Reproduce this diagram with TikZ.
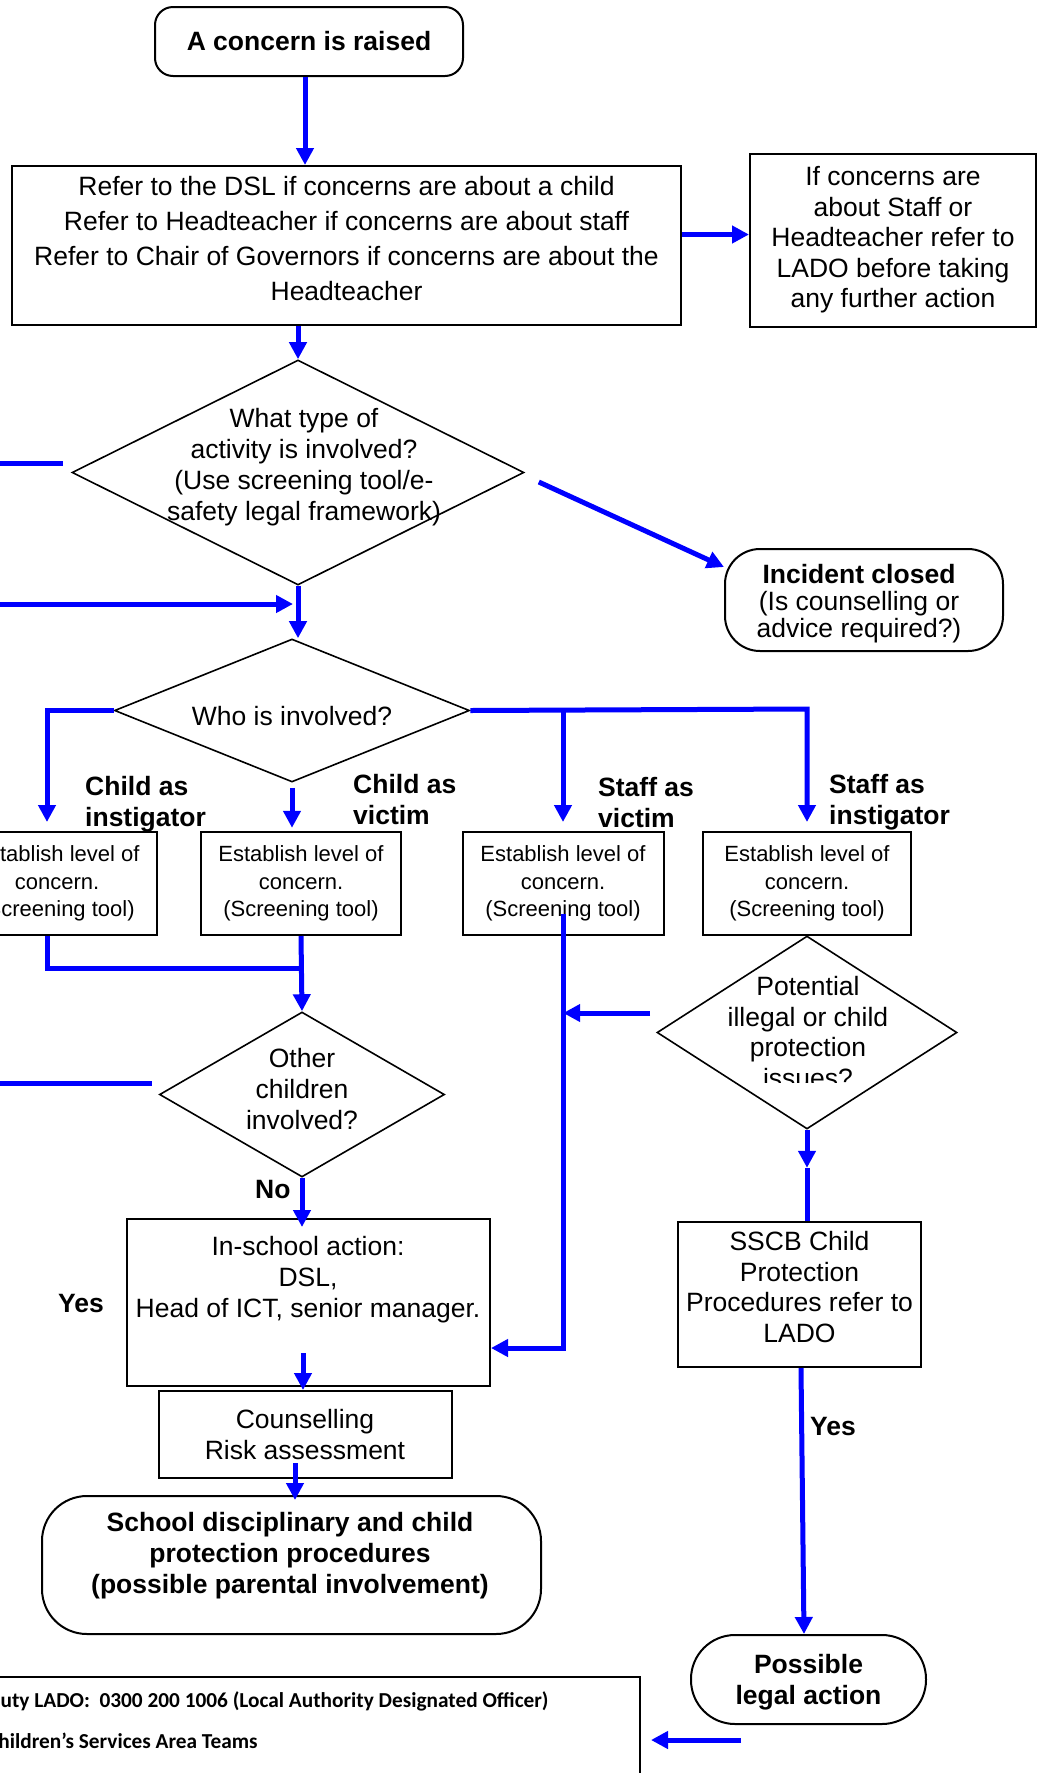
\documentclass[tikz,border=0pt]{standalone}
\usepackage{fontspec}
\setmainfont{Liberation Sans}
\newfontfamily\calibrifont{Carlito}
\usetikzlibrary{shapes.geometric,arrows.meta}

\newcommand{\flowtxt}{\fontsize{26.5}{31}\selectfont}
\newcommand{\esttxt}{\fontsize{22}{27.5}\selectfont}

\begin{document}
\begin{tikzpicture}[x=1pt,y=-1pt,
	box/.style={draw, line width=2pt, align=center, inner sep=0pt, font=\flowtxt},
	rbox/.style={box, rounded corners=#1},
	decision/.style={draw, diamond, line width=1.6pt, inner sep=0pt},
	flow/.style={blue, line width=5pt, -{Triangle[length=17pt,width=17pt]}},
	link/.style={blue, line width=5pt},
	tag/.style={font=\bfseries\flowtxt, align=left, anchor=west, inner sep=0pt}]

	\useasboundingbox (0,0) rectangle (1040,1773);
	\clip (0,0) rectangle (1040,1773);

	\node[rbox=18pt, minimum width=308pt, minimum height=69pt, font=\bfseries\flowtxt] (raised) at (309,41.5) {A concern is raised};
	\node[box, minimum width=669pt, minimum height=159pt] (refer) at (346.5,245.5) {};
	\node[font=\fontsize{26.5}{35}\selectfont, align=center] (refer-t) at (346.5,238.5) {Refer to the DSL if concerns are about a child\\Refer to Headteacher if concerns are about staff\\Refer to Chair of Governors if concerns are about the\\Headteacher};
	\node[box, minimum width=286pt, minimum height=173pt, font=\fontsize{26.5}{30.5}\selectfont] (lado) at (893,240) {If concerns are\\about Staff or\\Headteacher refer to\\LADO before taking\\any further action};

	\node[decision, minimum width=452pt, minimum height=225pt] (act) at (298,472.5) {};
	\node[font=\flowtxt, align=center] (act-q) at (304,467) {What type of\\activity is involved?\\(Use screening tool/e-\\safety legal framework)};
	\node[rbox=35pt, minimum width=278pt, minimum height=102pt] (inc) at (864,600) {};
	\node[font=\fontsize{26.5}{27}\selectfont, align=center] (inc-t) at (859,604) {\textbf{Incident closed}\\(Is counselling or\\advice required?)};

	\node[decision, minimum width=355pt, minimum height=143pt] (who) at (292,710.5) {};
	\node[font=\flowtxt] (who-q) at (292,716) {Who is involved?};

	\node[box, minimum width=200pt, minimum height=103pt, font=\esttxt] (est1) at (57,883.5) {Establish level of\\concern.\\(Screening tool)};
	\node[box, minimum width=200pt, minimum height=103pt, font=\esttxt] (est2) at (301,883.5) {Establish level of\\concern.\\(Screening tool)};
	\node[box, minimum width=201pt, minimum height=103pt, font=\esttxt] (est3) at (563,883.5) {Establish level of\\concern.\\(Screening tool)};
	\node[box, minimum width=208pt, minimum height=103pt, font=\esttxt] (est4) at (807,883.5) {Establish level of\\concern.\\(Screening tool)};

	\node[tag] (l-ci) at (85,804) {Child as\\instigator};
	\node[tag] (l-cv) at (353,800) {Child as\\victim};
	\node[tag] (l-sv) at (598,803) {Staff as\\victim};
	\node[tag] (l-si) at (829,802) {Staff as\\instigator};

	\node[decision, minimum width=285pt, minimum height=165pt] (oth) at (302,1094.5) {};
	\node[font=\flowtxt, align=center] (oth-q) at (302,1089) {Other\\children\\involved?};

	\node[decision, minimum width=300pt, minimum height=193pt] (pot) at (807,1032.5) {};
	\begin{scope}
		\clip (657,936) rectangle (957,1082);
		\node[font=\fontsize{26.5}{30.5}\selectfont, align=center] (pot-q) at (808,1032) {Potential\\illegal or child\\protection\\issues?};
	\end{scope}

	\node[box, minimum width=363pt, minimum height=167pt] (ins) at (308.5,1302.5) {};
	\node[font=\flowtxt, align=center] (ins-t) at (308,1280) {In-school action:\\DSL,\\Head of ICT, senior manager.};
	\node[box, minimum width=293pt, minimum height=87pt] (cns) at (305,1434.5) {Counselling\\Risk assessment};
	\node[rbox=45pt, minimum width=499pt, minimum height=138pt] (disc) at (291.5,1565) {};
	\node[font=\bfseries\flowtxt, align=center] (disc-t) at (290,1556) {School disciplinary and child\\protection procedures\\(possible parental involvement)};

	\node[box, minimum width=243pt, minimum height=145pt] (sscb) at (799.5,1294.5) {};
	\node[font=\fontsize{26.5}{30.5}\selectfont, align=center] (sscb-t) at (799.5,1287) {SSCB Child\\Protection\\Procedures refer to\\LADO};
	\node[rbox=44pt, minimum width=235pt, minimum height=89pt] (pos) at (808.5,1679.5) {};
	\node[font=\bfseries\flowtxt, align=center] (pos-t) at (808.5,1682.5) {Possible\\legal action};

	\node[box, anchor=north east, minimum width=661pt, minimum height=124pt] (contacts) at (641,1676) {};
	\node[font=\calibrifont\bfseries\fontsize{21.3}{41}\selectfont, align=left, anchor=west, inner sep=0pt] (contacts-t) at (-13,1720) {Duty LADO:~~0300 200 1006 (Local Authority Designated Officer)\\Children’s Services Area Teams};

	\node[tag] (no) at (255,1189) {No};
	\node[tag] (yes-l) at (58,1303) {Yes};
	\node[tag] (yes-r) at (810,1426) {Yes};

	% loose ends on the left
	\coordinate (stub1) at (-5,463);
	\coordinate (stub2) at (-5,1083);
	\coordinate (stub3) at (-5,604);
	\coordinate (fork) at (807,709);
	\coordinate (join) at (302,968);

	\draw[flow] ([xshift=-4pt]raised.south) -- ([xshift=-4pt]raised.south |- refer.north);
	\draw[flow] ([yshift=11pt]refer.east) -- ([yshift=11pt]refer.east -| lado.west);
	\draw[flow] (act.north |- refer.south) -- (act.north);
	\draw[link] (stub1) -- ([xshift=-8pt,yshift=9.5pt]act.west);
	\draw[flow] ([xshift=14pt,yshift=-9.5pt]act.east) -- ([yshift=33pt]inc.west);
	\draw[flow] (act.south) -- (act.south |- who.north);
	\draw[flow] (stub3) -- ([xshift=-5pt]act.south |- stub3);

	\draw[flow] (who.west) -| ([xshift=-10pt,yshift=9pt]est1.north);
	\draw[flow] ([yshift=-5pt]who.south) -- ++(0,40);
	\draw[flow] (who.east) -- (fork) -- ([yshift=9pt]est4.north);
	\draw[flow] (who.east -| est3.north) -- ([yshift=9pt]est3.north);

	\draw[link] ([xshift=-10pt]est1.south) |- (join);
	\draw[flow] (est2.south) -- (oth.north);
	\draw[link] (stub2) -- ([xshift=-7pt,yshift=11.5pt]oth.west);
	\draw[flow] (oth.south) -- ([yshift=-9pt]oth.south |- ins.north);
	\draw[flow] ([xshift=-2pt,yshift=37pt]cns.north) -- ([xshift=-2pt]cns.north);
	\draw[flow] ([xshift=-10pt,yshift=16pt]cns.south) -- ++(0,37);

	\draw[flow] ([yshift=22pt]est3.south) |- ([yshift=-45.5pt]ins.east);
	\draw[flow] ([xshift=-6pt,yshift=19.5pt]pot.west) -- ++(-87,0);
	\draw[flow] (pot.south) -- ++(0,38);
	\draw[link] ([yshift=-38pt]pot.south) -- (pot.south |- sscb.north);
	\draw[flow] ([xshift=1.5pt]sscb.south) -- ([xshift=-4.5pt]pos.north);
	\draw[flow] ([xshift=-67.5pt,yshift=-15pt]pos.south) -- ++(-90,0);
\end{tikzpicture}
\end{document}
